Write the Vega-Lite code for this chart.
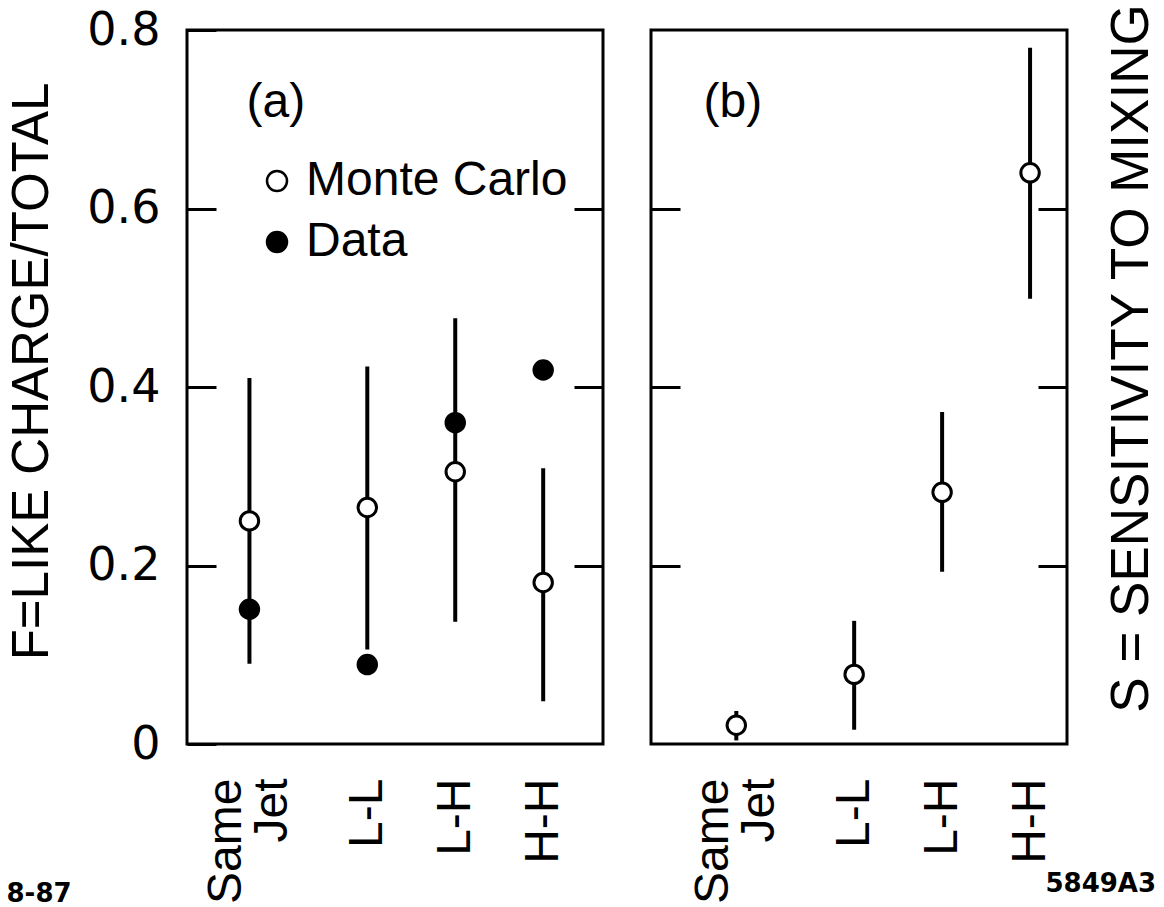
{
  "$schema": "https://vega.github.io/schema/vega-lite/v6.json",
  "padding": {"left": 4, "top": 1, "right": 0, "bottom": 0},
  "background": "white",
  "config": {
    "font": "Liberation Sans",
    "view": {"stroke": "black", "strokeWidth": 3},
    "axis": {"domain": false, "grid": false, "labelColor": "black", "titleColor": "black", "tickColor": "black", "labelFont": "Liberation Sans", "titleFont": "Liberation Sans", "titleFontWeight": "normal"}
  },
  "datasets": {
    "points": [
      {"panel": "a", "category": "Same Jet", "x": 0.66, "type": "Monte Carlo", "f": 0.25, "lo": 0.09, "hi": 0.41},
      {"panel": "a", "category": "Same Jet", "x": 0.66, "type": "Data", "f": 0.151},
      {"panel": "a", "category": "L-L", "x": 2, "type": "Monte Carlo", "f": 0.265, "lo": 0.106, "hi": 0.423},
      {"panel": "a", "category": "L-L", "x": 2, "type": "Data", "f": 0.089},
      {"panel": "a", "category": "L-H", "x": 3, "type": "Monte Carlo", "f": 0.305, "lo": 0.137, "hi": 0.477},
      {"panel": "a", "category": "L-H", "x": 3, "type": "Data", "f": 0.36},
      {"panel": "a", "category": "H-H", "x": 4, "type": "Monte Carlo", "f": 0.181, "lo": 0.048, "hi": 0.309},
      {"panel": "a", "category": "H-H", "x": 4, "type": "Data", "f": 0.419},
      {"panel": "b", "category": "Same Jet", "x": 0.66, "type": "Monte Carlo", "f": 0.021, "lo": 0.004, "hi": 0.037},
      {"panel": "b", "category": "L-L", "x": 2, "type": "Monte Carlo", "f": 0.078, "lo": 0.016, "hi": 0.138},
      {"panel": "b", "category": "L-H", "x": 3, "type": "Monte Carlo", "f": 0.282, "lo": 0.193, "hi": 0.372},
      {"panel": "b", "category": "H-H", "x": 4, "type": "Monte Carlo", "f": 0.64, "lo": 0.499, "hi": 0.78}
    ],
    "labels": [
      {"panel": "a", "x": 0.96, "y": 0.718, "text": "(a)"},
      {"panel": "b", "x": 0.62, "y": 0.718, "text": "(b)"}
    ]
  },
  "spacing": 42,
  "resolve": {"scale": {"fill": "independent"}, "legend": {"fill": "independent"}},
  "hconcat": [
    {
      "width": 416,
      "height": 714,
      "layer": [
        {
          "data": {"name": "points"},
          "transform": [{"filter": "datum.panel == 'a' && datum.type == 'Monte Carlo'"}],
          "mark": {"type": "rule", "strokeWidth": 4, "color": "black"},
          "encoding": {
            "x": {"field": "x", "type": "quantitative", "scale": {"domain": [-0.05, 4.68], "nice": false, "zero": false},
              "axis": {"orient": "bottom", "values": [0.66, 2, 3, 4], "ticks": false, "labelAngle": -90, "labelAlign": "right", "labelBaseline": "middle", "labelFontSize": 48, "labelPadding": 34, "labelLineHeight": 46, "labelFlush": false, "labelOverlap": false,
                "labelOffset": {"condition": {"test": "datum.value < 1", "value": -23}, "value": 0},
                "labelExpr": "datum.value < 1 ? ['Same', 'Jet'] : datum.value == 2 ? 'L-L' : datum.value == 3 ? 'L-H' : 'H-H'",
                "title": "8-87", "titleX": -181, "titleY": 157, "titleAlign": "left", "titleBaseline": "alphabetic", "titleAngle": 0, "titleFont": "DejaVu Sans", "titleFontSize": 26, "titleFontWeight": "bold"}},
            "y": {"field": "lo", "type": "quantitative", "scale": {"domain": [0, 0.8], "nice": false},
              "axis": {"orient": "left", "values": [0, 0.2, 0.4, 0.6, 0.8], "tickSize": -29, "tickWidth": 3, "labelFont": "DejaVu Sans", "labelFontSize": 46, "labelPadding": 56, "labelBaseline": "middle", "labelFlush": false, "labelOverlap": false,
                "labelExpr": "datum.value == 0 ? '0' : format(datum.value, '.1f')",
                "title": "F=LIKE CHARGE/TOTAL", "titleFontSize": 51, "titleY": 341, "titlePadding": 28}},
            "y2": {"field": "hi"}
          }
        },
        {
          "data": {"name": "points"},
          "transform": [{"filter": "datum.panel == 'a'"}],
          "mark": {"type": "point", "shape": "circle", "filled": true, "opacity": 1, "stroke": "black", "strokeWidth": 3, "size": 340},
          "encoding": {
            "x": {"field": "x", "type": "quantitative"},
            "y": {"field": "f", "type": "quantitative", "scale": {"domain": [0, 0.8], "nice": false},
              "axis": {"orient": "right", "values": [0.2, 0.4, 0.6], "tickSize": -29, "tickWidth": 3, "labels": false, "title": null}},
            "fill": {"field": "type", "type": "nominal", "scale": {"domain": ["Monte Carlo", "Data"], "range": ["white", "black"]},
              "legend": {"orient": "none", "legendX": 66, "legendY": 127, "title": null, "labelFontSize": 48, "labelFont": "Liberation Sans", "labelColor": "black", "symbolType": "circle", "symbolSize": 400, "symbolStrokeColor": "black", "symbolStrokeWidth": 2.5, "symbolOpacity": 1, "rowPadding": 13, "labelOffset": 5, "padding": 0, "labelLimit": 0}}
          }
        },
        {
          "data": {"name": "labels"},
          "transform": [{"filter": "datum.panel == 'a'"}],
          "mark": {"type": "text", "fontSize": 48, "font": "Liberation Sans", "color": "black"},
          "encoding": {
            "x": {"field": "x", "type": "quantitative"},
            "y": {"field": "y", "type": "quantitative", "axis": null},
            "text": {"field": "text"}
          }
        }
      ],
      "resolve": {"axis": {"y": "independent"}}
    },
    {
      "width": 416,
      "height": 714,
      "layer": [
        {
          "data": {"name": "points"},
          "transform": [{"filter": "datum.panel == 'b'"}],
          "mark": {"type": "rule", "strokeWidth": 4, "color": "black"},
          "encoding": {
            "x": {"field": "x", "type": "quantitative", "scale": {"domain": [-0.31, 4.42], "nice": false, "zero": false},
              "axis": {"orient": "bottom", "values": [0.66, 2, 3, 4], "ticks": false, "labelAngle": -90, "labelAlign": "right", "labelBaseline": "middle", "labelFontSize": 48, "labelPadding": 34, "labelLineHeight": 46, "labelFlush": false, "labelOverlap": false,
                "labelOffset": {"condition": {"test": "datum.value < 1", "value": -23}, "value": 0},
                "labelExpr": "datum.value < 1 ? ['Same', 'Jet'] : datum.value == 2 ? 'L-L' : datum.value == 3 ? 'L-H' : 'H-H'",
                "title": "5849A3", "titleX": 394, "titleY": 147, "titleAlign": "left", "titleBaseline": "alphabetic", "titleAngle": 0, "titleFont": "DejaVu Sans", "titleFontSize": 26, "titleFontWeight": "bold"}},
            "y": {"field": "lo", "type": "quantitative", "scale": {"domain": [0, 0.8], "nice": false},
              "axis": {"orient": "left", "values": [0.2, 0.4, 0.6], "tickSize": -29, "tickWidth": 3, "labels": false, "title": null}},
            "y2": {"field": "hi"}
          }
        },
        {
          "data": {"name": "points"},
          "transform": [{"filter": "datum.panel == 'b'"}],
          "mark": {"type": "point", "shape": "circle", "filled": true, "fill": "white", "opacity": 1, "stroke": "black", "strokeWidth": 3, "size": 340},
          "encoding": {
            "x": {"field": "x", "type": "quantitative"},
            "y": {"field": "f", "type": "quantitative", "scale": {"domain": [0, 0.8], "nice": false},
              "axis": {"orient": "right", "values": [0.2, 0.4, 0.6], "tickSize": -29, "tickWidth": 3, "labels": false,
                "title": "S = SENSITIVITY TO MIXING", "titleAngle": 270, "titleBaseline": "top", "titleFontSize": 53, "titleY": 328, "titlePadding": 37}}
          }
        },
        {
          "data": {"name": "labels"},
          "transform": [{"filter": "datum.panel == 'b'"}],
          "mark": {"type": "text", "fontSize": 48, "font": "Liberation Sans", "color": "black"},
          "encoding": {
            "x": {"field": "x", "type": "quantitative"},
            "y": {"field": "y", "type": "quantitative", "axis": null},
            "text": {"field": "text"}
          }
        }
      ],
      "resolve": {"axis": {"y": "independent"}}
    }
  ]
}
